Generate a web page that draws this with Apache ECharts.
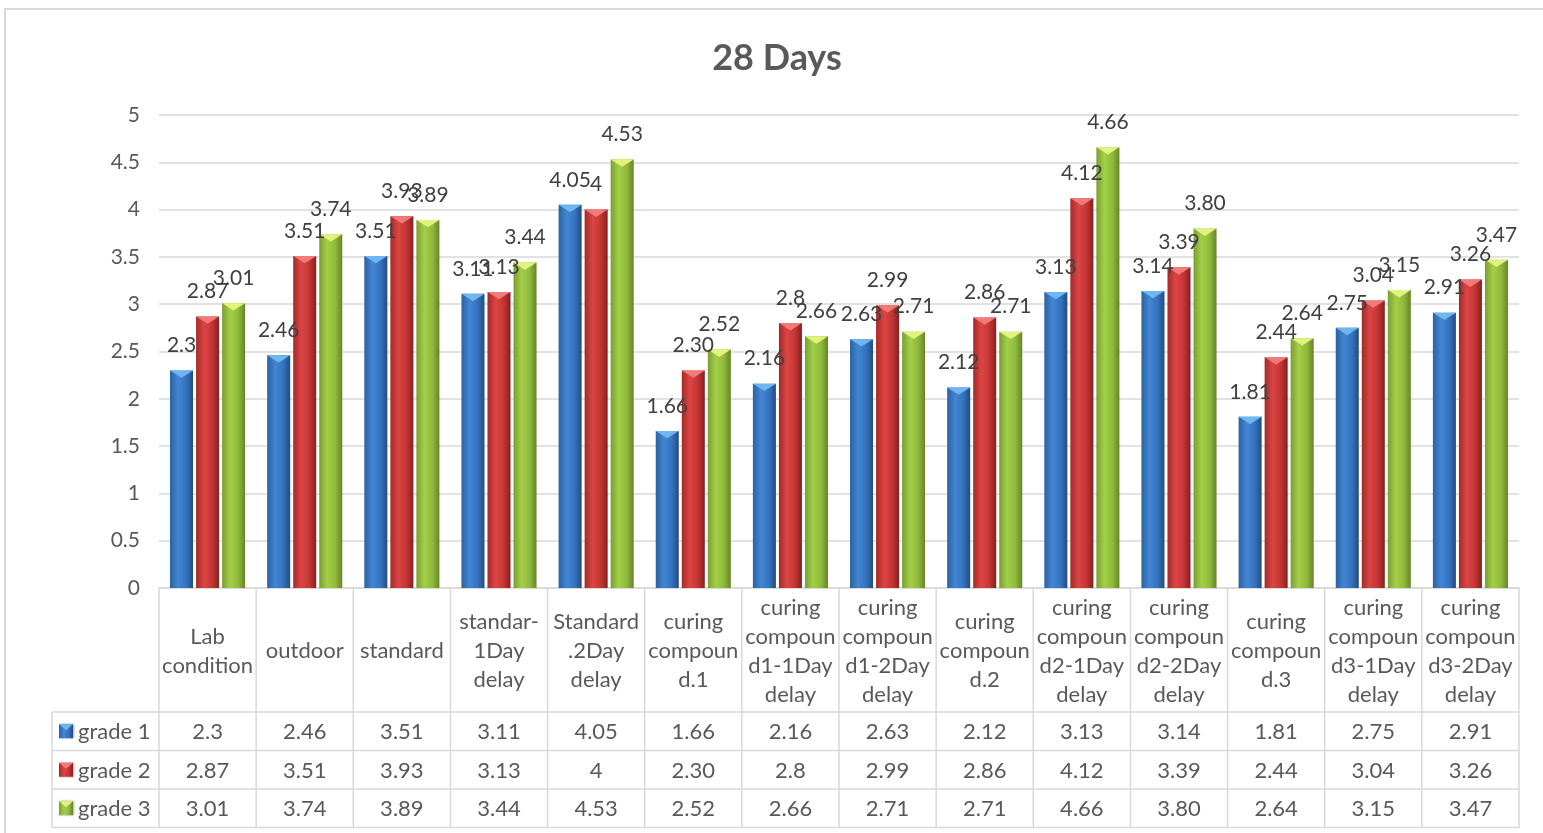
<!DOCTYPE html>
<html>
<head>
<meta charset="utf-8">
<script src="https://cdn.jsdelivr.net/npm/echarts@6/dist/echarts.min.js"></script>
<style>
  html, body { margin: 0; padding: 0; background: #fff; }
  #chart { width: 1543px; height: 833px; }
</style>
</head>
<body>
<div id="chart"></div>
<script>
// Curing conditions (one column of the data table each)
const categories = [
  'Lab\ncondition', 'outdoor', 'standard', 'standar-\n1Day\ndelay', 'Standard\n.2Day\ndelay',
  'curing\ncompoun\nd.1', 'curing\ncompoun\nd1-1Day\ndelay', 'curing\ncompoun\nd1-2Day\ndelay',
  'curing\ncompoun\nd.2', 'curing\ncompoun\nd2-1Day\ndelay', 'curing\ncompoun\nd2-2Day\ndelay',
  'curing\ncompoun\nd.3', 'curing\ncompoun\nd3-1Day\ndelay', 'curing\ncompoun\nd3-2Day\ndelay'
];
const seriesNames = ['grade 1', 'grade 2', 'grade 3'];

// Values as printed in the labels and the table
const grade1 = ['2.3', '2.46', '3.51', '3.11', '4.05', '1.66', '2.16', '2.63', '2.12', '3.13', '3.14', '1.81', '2.75', '2.91'];
const grade2 = ['2.87', '3.51', '3.93', '3.13', '4', '2.30', '2.8', '2.99', '2.86', '4.12', '3.39', '2.44', '3.04', '3.26'];
const grade3 = ['3.01', '3.74', '3.89', '3.44', '4.53', '2.52', '2.66', '2.71', '2.71', '4.66', '3.80', '2.64', '3.15', '3.47'];
const gradeValues = [grade1, grade2, grade3];

const FONT = 'Lato, "Open Sans", sans-serif';
const TEXT = '#595959';
const LINE = '#d9d9d9';

// Bevelled bar look per series: side gradient stops and the lighter top facet
const palettes = [
  { stops: ['#2c619f', '#4286d4', '#3573bf', '#234c80'], cap: '#6cb6f2' },
  { stops: ['#a32b29', '#dc4544', '#c33634', '#87201f'], cap: '#f27a78' },
  { stops: ['#7a9e31', '#a3cf47', '#8fba3c', '#66842a'], cap: '#e2f27e' }
];

function sideGradient(p) {
  return new echarts.graphic.LinearGradient(0, 0, 1, 0, [
    { offset: 0, color: p.stops[0] },
    { offset: 0.35, color: p.stops[1] },
    { offset: 0.7, color: p.stops[2] },
    { offset: 1, color: p.stops[3] }
  ]);
}

function barRenderer(k) {
  const p = palettes[k];
  return function (params, api) {
    const i = api.value(0);
    const v = api.value(1);
    const band = api.size([1, 0])[0];
    const w = band * 0.237;
    const gap = band * 0.031;
    const topPt = api.coord([i, v]);
    const basePt = api.coord([i, 0]);
    const cx = topPt[0] + (k - 1) * (w + gap);
    const x0 = cx - w / 2;
    const top = topPt[1];
    const h = basePt[1] - top;
    const capDepth = Math.min(w * 0.32, h);
    return {
      type: 'group',
      children: [
        {
          type: 'rect',
          shape: { x: x0, y: top, width: w, height: h },
          style: {
            fill: sideGradient(p),
            shadowBlur: 3, shadowOffsetX: 1.5, shadowOffsetY: 0,
            shadowColor: 'rgba(0,0,0,0.35)'
          }
        },
        {
          type: 'polygon',
          shape: { points: [[x0, top], [x0 + w, top], [cx, top + capDepth]] },
          style: { fill: p.cap }
        },
        {
          type: 'text',
          z2: 100,
          style: {
            text: gradeValues[k][i],
            x: cx, y: top - 25,
            align: 'center', verticalAlign: 'middle',
            font: '21px ' + FONT, fill: '#404040'
          }
        }
      ]
    };
  };
}

const chart = echarts.init(document.getElementById('chart'), null, { renderer: 'canvas' });

const option = {
  backgroundColor: '#fff',
  animation: false,
  grid: { left: 159, right: 24, top: 115, bottom: 245 },
  xAxis: {
    type: 'category',
    data: categories,
    axisLine: { show: true, lineStyle: { color: LINE, width: 1.5 } },
    axisTick: { show: false },
    axisLabel: { show: false },
    splitLine: { show: false }
  },
  yAxis: {
    type: 'value',
    min: 0, max: 5, interval: 0.5,
    axisLine: { show: false },
    axisTick: { show: false },
    axisLabel: { color: TEXT, fontFamily: FONT, fontSize: 21, margin: 19 },
    splitLine: { lineStyle: { color: LINE, width: 1.5 } }
  },
  series: seriesNames.map((name, k) => ({
    name,
    type: 'custom',
    renderItem: barRenderer(k),
    encode: { x: 0, y: 1 },
    data: gradeValues[k].map((s, i) => [i, Number(s)])
  }))
};
chart.setOption(option);

// Data table under the plot, laid out on the category axis bands
function buildTable() {
  const c0 = chart.convertToPixel({ xAxisIndex: 0 }, 0);
  const c1 = chart.convertToPixel({ xAxisIndex: 0 }, 1);
  const band = c1 - c0;
  const left = c0 - band / 2;
  const right = left + band * categories.length;
  const yTop = chart.convertToPixel({ yAxisIndex: 0 }, 0);
  const headerH = 124;
  const rowH = 38.5;
  const rowTops = [0, 1, 2].map(r => yTop + headerH + r * rowH);
  const tableBottom = yTop + headerH + 3 * rowH;
  const keyLeft = 52;
  const tableFont = '22px ' + FONT;
  const els = [];
  const line = (x1, y1, x2, y2) => els.push({
    type: 'line', shape: { x1, y1, x2, y2 },
    style: { stroke: LINE, lineWidth: 1.5 }, silent: true
  });

  // outer chart border
  els.push({
    type: 'rect', shape: { x: 5, y: 9, width: 1600, height: 900 },
    style: { fill: null, stroke: LINE, lineWidth: 2 }, silent: true
  });

  // grid lines
  for (let j = 0; j <= categories.length; j++) {
    const x = left + j * band;
    line(x, yTop, x, tableBottom);
  }
  line(keyLeft, rowTops[0], keyLeft, tableBottom);
  rowTops.forEach(y => line(keyLeft, y, right, y));
  line(keyLeft, tableBottom, right, tableBottom);

  // header texts
  categories.forEach((name, j) => {
    els.push({
      type: 'text',
      style: {
        text: name, x: left + (j + 0.5) * band, y: yTop + headerH / 2 + 1,
        align: 'center', verticalAlign: 'middle',
        font: tableFont, fill: TEXT, lineHeight: 29
      }
    });
  });

  // rows: legend key, series name, values
  seriesNames.forEach((name, k) => {
    const cy = rowTops[k] + rowH / 2;
    const p = palettes[k];
    const ks = 14;
    const kx = keyLeft + 7;
    els.push({
      type: 'rect', shape: { x: kx, y: cy - ks / 2, width: ks, height: ks },
      style: { fill: sideGradient(p), shadowBlur: 2, shadowOffsetX: 1, shadowColor: 'rgba(0,0,0,0.35)' }
    });
    els.push({
      type: 'polygon',
      shape: { points: [[kx, cy - ks / 2], [kx + ks, cy - ks / 2], [kx + ks / 2, cy - ks / 2 + 6]] },
      style: { fill: p.cap }
    });
    els.push({
      type: 'text',
      style: {
        text: name, x: kx + ks + 5, y: cy + 1,
        align: 'left', verticalAlign: 'middle',
        font: tableFont, fill: TEXT
      }
    });
    gradeValues[k].forEach((s, j) => {
      els.push({
        type: 'text',
        style: {
          text: s, x: left + (j + 0.5) * band, y: cy + 1,
          align: 'center', verticalAlign: 'middle',
          font: tableFont, fill: TEXT
        }
      });
    });
  });

  // title
  els.push({
    type: 'text',
    style: {
      text: '28 Days', x: 777, y: 58,
      align: 'center', verticalAlign: 'middle',
      font: 'bold 36px ' + FONT, fill: TEXT
    }
  });

  chart.setOption({ graphic: { elements: els } });
}
buildTable();
</script>
</body>
</html>
